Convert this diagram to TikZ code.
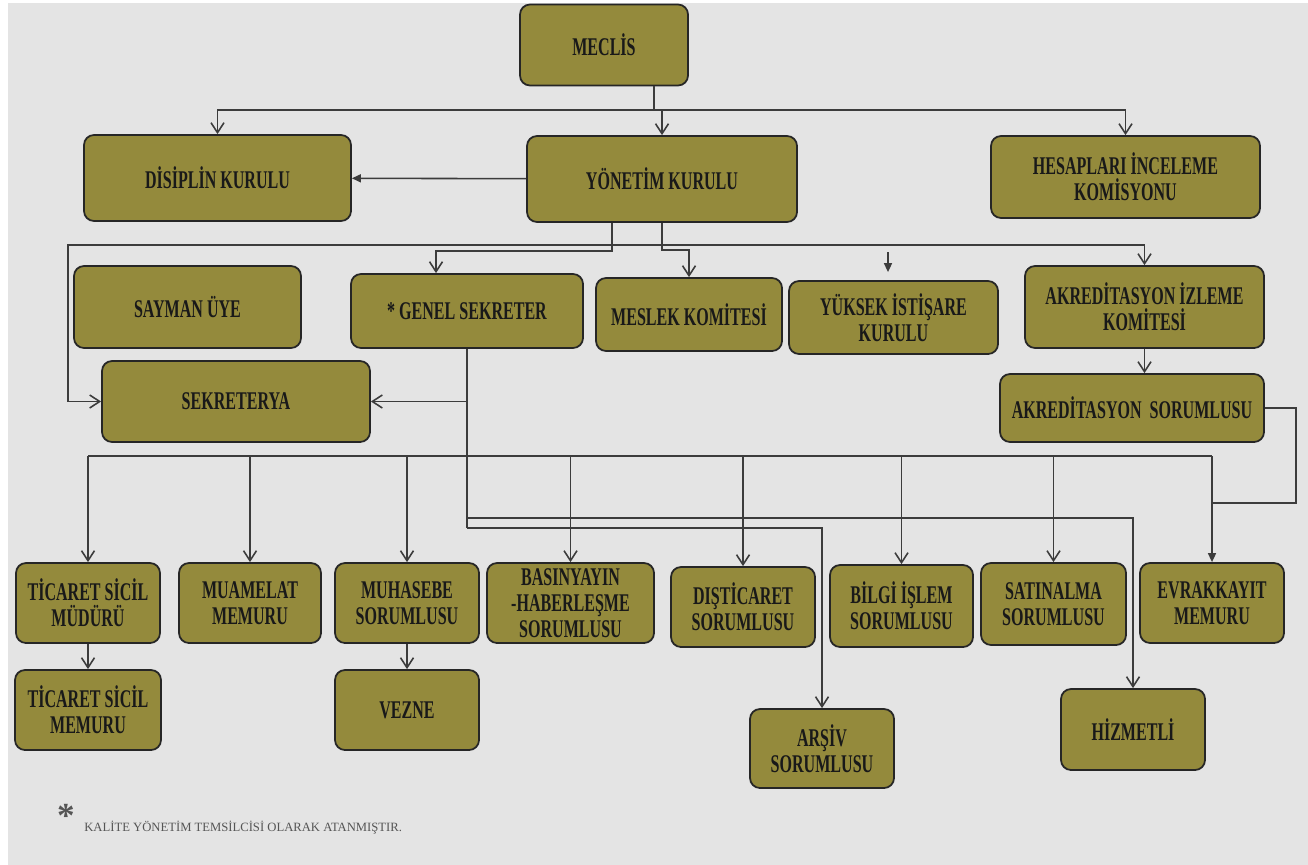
\documentclass[tikz,border=0pt]{standalone}
\usepackage{fontspec}
\usetikzlibrary{arrows.meta}
\newfontfamily\orgfont{Liberation Serif}[FakeStretch=0.63]
\newfontfamily\notefont{Liberation Serif}
\definecolor{boxolive}{RGB}{148,138,60}
\definecolor{pagegray}{RGB}{228,228,228}
\definecolor{linegray}{RGB}{60,60,60}
\definecolor{notegray}{RGB}{85,85,85}
\tikzset{
  box/.style={draw=black!85, fill=boxolive, line width=1pt, rounded corners=0.2cm,
    align=center, inner sep=0pt, text=black!90,
    font=\orgfont\bfseries\fontsize{14.5}{14.8}\selectfont},
  sz/.style 2 args={minimum width=#1*0.02cm, minimum height=#2*0.02cm},
  conn/.style={draw=linegray, line width=0.9pt},
  arr/.style={conn, -{Straight Barb[length=2mm,width=2.6mm]}},
  farr/.style={conn, -{Triangle[length=1.8mm,width=1.6mm]}}
}
\begin{document}
\begin{tikzpicture}[x=0.02cm, y=-0.02cm]
  \useasboundingbox (0,0) rectangle (1308,865);
  \fill[white] (0,0) rectangle (1308,865);
  \fill[pagegray] (8,3) rectangle (1308,865);

  % top levels
  \node (meclis)   at (604,45)    [box, sz={168}{81}] {MECLİS};
  \node (disiplin) at (217.5,178) [box, sz={267}{86}] {DİSİPLİN KURULU};
  \node (yonetim)  at (662,179)   [box, sz={270}{86}] {YÖNETİM KURULU};
  \node (hesap)    at (1125.5,177) [box, sz={269}{82}] {HESAPLARI İNCELEME\\KOMİSYONU};

  % second row
  \node (sayman)     at (187.5,307)  [box, sz={227}{82}] {SAYMAN ÜYE};
  \node (gsek)       at (467,311)    [box, sz={232}{74}] {* GENEL SEKRETER};
  \node (meslek)     at (689,314.5)  [box, sz={186}{73}] {MESLEK KOMİTESİ};
  \node (yuksek)     at (893.5,317.5) [box, sz={209}{73}] {YÜKSEK İSTİŞARE\\KURULU};
  \node (akrizleme)  at (1144.5,307) [box, sz={239}{82}] {AKREDİTASYON İZLEME\\KOMİTESİ};
  \node (akrsor)     at (1132,408)   [box, sz={264}{68}] {AKREDİTASYON\ \ SORUMLUSU};
  \node (sekreterya) at (236,401.5)  [box, sz={268}{81}] {SEKRETERYA};

  % units
  \node (ticmud)   at (88,603)     [box, sz={144}{80}] {TİCARET SİCİL\\MÜDÜRÜ};
  \node (muamelat) at (250,603)    [box, sz={142}{80}] {MUAMELAT\\MEMURU};
  \node (muhasebe) at (407,603)    [box, sz={144}{80}] {MUHASEBE\\SORUMLUSU};
  \node (basin)    at (570.5,603)  [box, sz={167}{80}] {BASINYAYIN\\-HABERLEŞME\\SORUMLUSU};
  \node (distic)   at (743,607)    [box, sz={144}{80}] {DIŞTİCARET\\SORUMLUSU};
  \node (bilgi)    at (901.5,606)  [box, sz={143}{82}] {BİLGİ İŞLEM\\SORUMLUSU};
  \node (satin)    at (1053.5,604) [box, sz={145}{82}] {SATINALMA\\SORUMLUSU};
  \node (evrak)    at (1212,603)   [box, sz={144}{80}] {EVRAKKAYIT\\MEMURU};
  \node (ticmem)   at (88,710)     [box, sz={146}{80}] {TİCARET SİCİL\\MEMURU};
  \node (vezne)    at (407,710)    [box, sz={144}{80}] {VEZNE};
  \node (arsiv)    at (822,748.5)  [box, sz={144}{79}] {ARŞİV\\SORUMLUSU};
  \node (hizmetli) at (1133,729.5) [box, sz={144}{81}] {HİZMETLİ};

  % junction points
  \coordinate (mtrunk) at (654,110);
  \coordinate (ys1) at (612,245);
  \coordinate (ys2) at (662,245);
  \coordinate (skl) at (68,245);
  \coordinate (yik) at (888,252);
  \coordinate (bus) at (467,456);
  \coordinate (hzk) at (467,518);
  \coordinate (ark) at (467,528);
  \coordinate (akk) at (1296,503);

  % meclis
  \draw[conn] (meclis.south -| mtrunk) -- (mtrunk);
  \draw[arr] (mtrunk) -| (disiplin);
  \draw[arr] (mtrunk) -| (yonetim);
  \draw[arr] (mtrunk) -| (hesap);

  % yonetim kurulu
  \draw[farr] (yonetim) -- (disiplin);
  \draw[conn] (yonetim.south -| ys1) -- (ys1);
  \draw[conn] (yonetim.south) -- (ys2);
  \draw[arr] (ys1) -- (skl) |- (sekreterya);
  \draw[arr] (ys1) -- ++(0,6) -| ([xshift=-0.62cm]gsek.north);
  \draw[arr] (ys2) -- ++(0,5) -| (meslek);
  \draw[arr] (ys1) -- (ys2) -| (akrizleme);
  \draw[farr, shorten >=0.16cm] (yik) -- (yik |- yuksek.north);
  \draw[arr] (akrizleme.south) -- (akrizleme.south |- akrsor.north);

  % genel sekreter
  \draw[arr] (gsek.south) |- (sekreterya);
  \draw[conn] (gsek.south) -- (ark);
  \draw[arr] (ark) -| (arsiv);
  \draw[arr] (hzk) -| (hizmetli);
  \draw[conn] (bus -| ticmud) -- (bus -| evrak);
  \foreach \u in {ticmud,muamelat,muhasebe,basin,distic,bilgi,satin}
    \draw[arr] (bus -| \u) -- (\u);
  \draw[farr] (bus -| evrak) -- (evrak);
  \draw[conn] (akrsor.east) -| (akk) -- (akk -| evrak);
  \draw[arr] (ticmud) -- (ticmem);
  \draw[arr] (muhasebe) -- (vezne);

  % note
  \node (star) at (66,816) [text=notegray, font=\notefont\bfseries\fontsize{20}{20}\selectfont] {*};
  \node (note) at (84,828) [anchor=west, inner sep=0pt, text=notegray,
    font=\notefont\fontsize{7.2}{8}\selectfont] {KALİTE YÖNETİM TEMSİLCİSİ OLARAK ATANMIŞTIR.};
\end{tikzpicture}
\end{document}
